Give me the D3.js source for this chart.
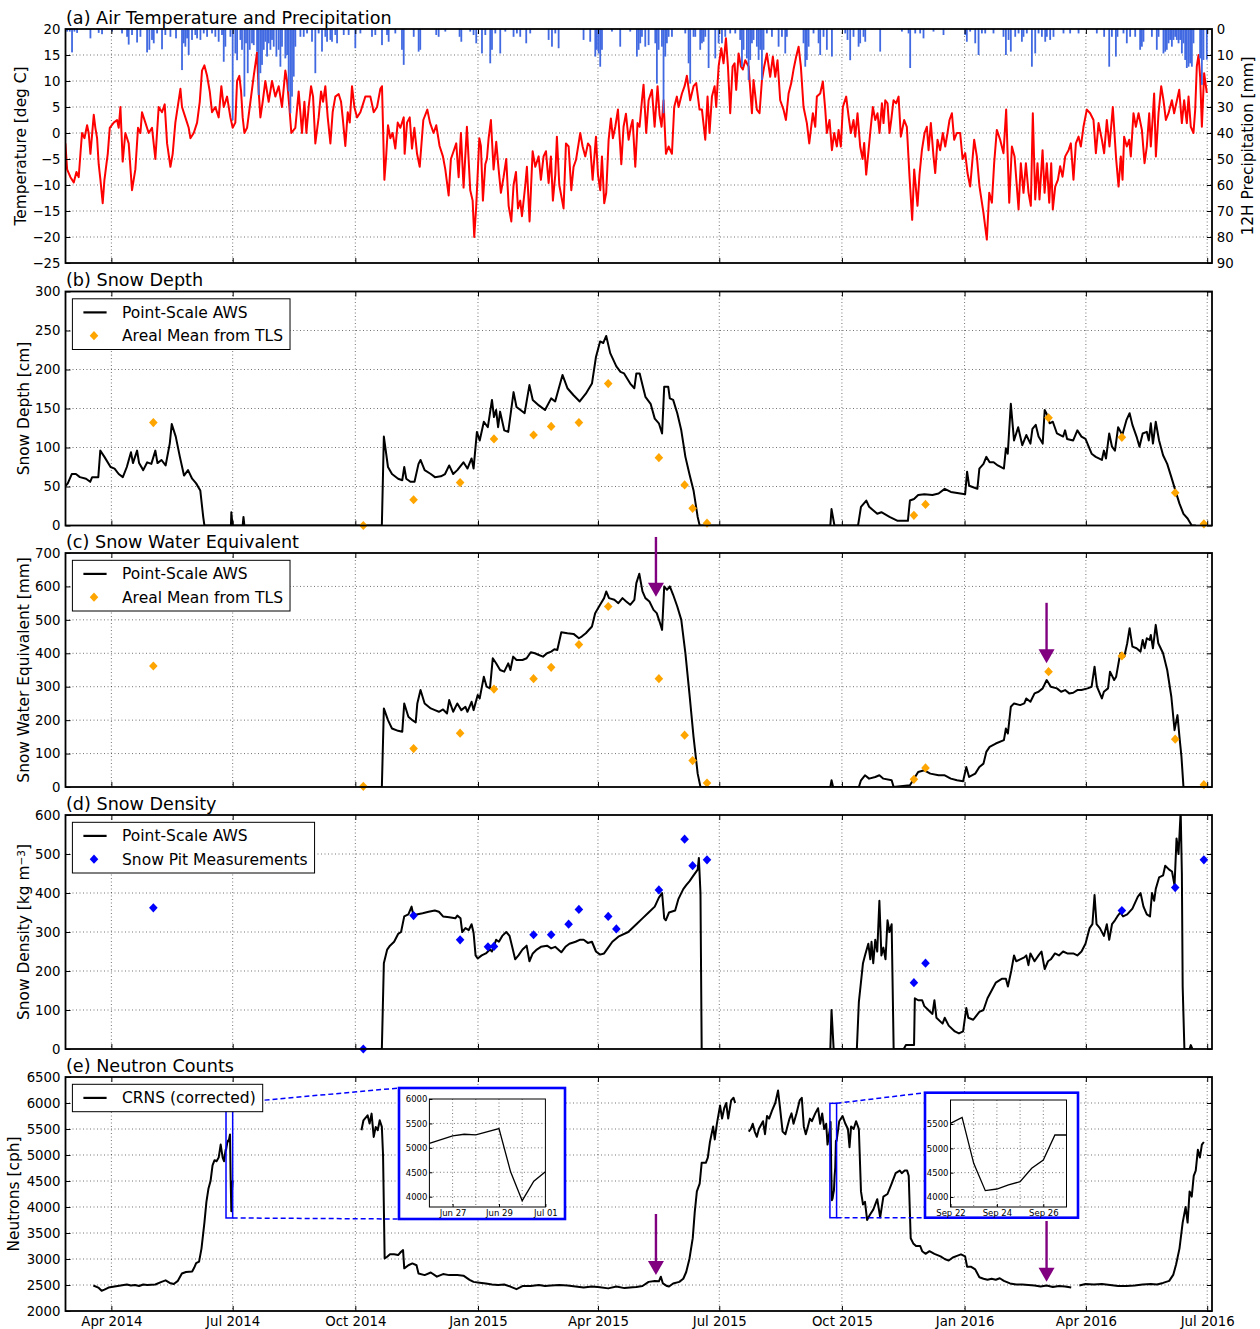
<!DOCTYPE html>
<html>
<head>
<meta charset="utf-8">
<script src="https://cdn.jsdelivr.net/npm/d3@7"></script>
<style>
  body { margin: 0; background: #fff; }
  svg { display: block; font-family: "DejaVu Sans", sans-serif; }
  .grid { stroke: #000; stroke-opacity: 0.55; stroke-width: 1; stroke-dasharray: 1,2.5; }
</style>
</head>
<body>
<svg id="chart" width="1260" height="1329"></svg>
<script>
// all x values are days since 2014-01-01 (UTC)
const xTickDates = ['2014-04-01', '2014-07-01', '2014-10-01', '2015-01-01', '2015-04-01',
  '2015-07-01', '2015-10-01', '2016-01-01', '2016-04-01', '2016-07-01'];

// (a) air temperature [deg C]
const tempSeries = [
  [55.5,-2],[56.8,-7],[59.3,-8.5],[61.8,-9.5],[63.8,-7.5],[65.5,-8.5],[66.8,-4],[68,0],[69.8,-1],[71.8,1.5],[73,0],[74.3,-4],[76.8,3.5],[78,1],[79.3,-1],[80.5,-6],[81.8,-9],[83.5,-13.5],[84.8,-9],[86.3,-6],[87.3,-4],[88.8,1],[91.8,2],[94.3,2.5],[95.5,1],[96.8,5],[98.5,-5.5],[100.5,0],[103,-2],[105.5,-11],[108,-7],[110,1],[111.8,0],[113,4],[115.5,2],[118,0],[120.5,1],[123,-5],[125.5,5],[128,4],[130,5.5],[131.8,-2],[134.3,-6.5],[136,-4],[138,2],[141.8,8.5],[143,5],[145.5,3],[148,1],[149.3,-1],[151.8,0],[154.3,2],[156.3,6],[158,12],[159.8,13],[161.8,11],[163.8,8],[165.5,4],[168,5],[170.5,3],[172.5,9],[174.3,5],[176.8,7],[179.3,3],[181,1],[183,2],[184.3,10],[186,11],[187.3,8],[188.5,3],[189.8,0],[191.8,1],[193.8,5],[196.8,11],[199.3,15.5],[200.5,8],[201.8,3],[203.5,6],[205.5,10],[208,6],[210.5,10],[213,7],[215.5,9],[218,5],[220.5,12],[221.8,10],[223.5,5],[225,0],[228,1],[230.5,8],[233,0],[234.8,6],[236.3,0],[238,5],[239.8,9],[241.3,7],[243,-2],[245.5,3],[247.3,8],[248.8,6],[250.5,9],[252.3,3],[254.3,-2],[256,4],[258,7],[260.5,7.5],[262.3,6],[263.5,3],[265.5,-2.5],[267.3,4],[268.8,2],[270.5,9],[272.3,5],[274.3,3],[276.8,4],[280.5,7],[284.3,7],[286.8,4],[289.3,5],[291.8,8.5],[293,9],[294.8,-9],[296,-5],[297.5,1.5],[299.3,-1],[301,0],[303,-3],[304.8,2],[306.8,1],[309.3,3],[310,-4],[311.8,2],[313.8,3],[315.5,-3],[317.3,1],[319.3,-4],[321.3,-6.5],
  [324,2.5],[327,4.5],[329,2],[331.7,0],[333.7,1.5],[336.2,-2.5],[338.7,-4.5],[340.5,-7],[343,-12],[344.7,-5],[346.7,-3.5],[348.7,-2],[350.5,-8.5],[352.2,0],[354.2,-10.5],[356.7,1.2],[359.2,-11],[361,-13],[362.2,-20],[363.7,-14],[366,-1],[367.2,-2.5],[368.7,-13],[370.5,-6],[371.7,-5],[373,-1],[374.7,2.5],[376.7,-7],[378.7,-1.7],[380.5,-7],[382.2,-11.5],[384.2,-8.5],[386.2,-5],[388,-14],[390,-17],[391.7,-10],[393.5,-7.5],[395,-14.5],[396.7,-13],[398,-16],[400.5,-10],[401.7,-6.5],[403.7,-17],[406,-3.5],[408,-6.5],[410.5,-4.5],[412.2,-9],[414.2,-4.5],[416,-3.5],[418,-9.6],[419.7,-4.5],[421.2,-13],[423,-8],[424.2,-0.7],[426,-10],[429.2,-14.5],[431,-2],[433,-2.6],[435,-11],[436.7,-6.5],[438.5,-5.2],[440.5,-2],[441.7,0],[443.5,-2.6],[445.5,-4.5],[447.5,-2],[449.2,-2.6],[451,-9],[453.5,-0.7],[455,-8],[456.7,-11],[458,-4.5],[459.7,-13.5],[461.2,-11.5],[463,-1.3],[464.7,2.8],[466.2,-1],[468,1.2],[470,4.5],[472.5,-6],[474.2,1.2],[476,3.7],[478,-1.3],[479.7,1.2],[481,2.5],[483,-6.5],[484.7,1.9],[486.2,1.2],[488,6.3],[489.2,9.3],[491.2,0],[493,6.3],[495.5,8.3],[497.5,1.2],[499.7,9],[501.2,3.5],[502.7,1.2],[504.2,6.3],[506,-4],[508,-2.6],[510.5,-4],[512.2,5],[514.2,7],[515.5,5],[518,7.6],[520,9],[521.7,11],[524.2,6.3],[526.7,9],[528.7,9.6],[531.2,4.5],[533,4.5],[535.5,-1.3],[537.2,7],[538.7,0],[540.5,7],[542.5,9],[543.7,5],[545.5,12.8],[547.5,16.3],[549.2,13.4],[551,18.2],[552.5,12.8],[554.2,3.8],[556,12.8],[557.5,13.4],[558.7,8.3],[560.5,15.3],[562.2,12.8],[563.7,12.2],[565.5,14],[568,12.8],[570.5,3.8],[571.7,10.2],[574.2,4.5],[576.2,3.8],[578,10.2],[579.7,12.8],[581.7,15.3],[584.2,10.8],[586.2,14.7],[588,10.8],[589.7,14],[591.7,6.3],[594.2,4.5],[596,2.5],[598,7.6],[600,9.6],[601.7,12.2],[603.7,14.7],[605.5,16.6],[607.2,12.8],[609.2,5],[611.7,1.9],[613.5,-2],[614.7,0.6],[616.2,3.8],[618,1.2],[619.2,7],[621.7,7.6],[623.7,9.9],[625.5,4.5],[626.7,0],[628.7,2.5],
  [630.5,-3.3],[632.2,0],[634.2,-2.6],[635.5,0.6],[637.2,-2.6],[638.7,5],[641.2,7],[643,3.2],[644.7,0],[646.7,2.5],[648,-0.7],[649.7,3.8],[651.7,-2.6],[653.5,-5],[654.7,-1.9],[656.2,-8],[658,-3.3],[659.2,0],[661.2,5],[663,2.5],[664.7,3.8],[666.2,0],[668,5.7],[669.2,1.9],[670.5,6.3],[672.2,5.7],[673.7,0],[675,2.5],[676.7,6.3],[678.7,5.7],[680.5,7],[682.2,-0.7],[684.7,2.5],[686.7,1.2],[688.7,-8.4],[690.7,-16.7],[692.2,-7],[694.7,-14],[696.2,-8],[698,-3.3],[700,0],[701.7,1.2],[703,-3.3],[704.7,1.9],[706.7,-4.5],[708,-7.7],[709.7,-1.3],[711.7,-3.3],[713.7,0],[715.5,-2.6],[717.2,0],[718.7,2.5],[720.5,3.8],[722.2,-1.3],[724.2,0],[726.7,0],[728.5,-5],[730.5,-3.9],[732.2,-7.7],[734.2,-10.3],[737.2,-1.3],[739.2,-4.5],[741.2,-10.3],[744.2,-15.4],[746.7,-20.5],[748.5,-11.5],[750.5,-13.4],[752.2,-5.8],[754.2,0.6],[756.7,-1.3],[759.2,-3.9],[761.2,4.5],[763.5,-13.4],[765.5,-2.6],[767.5,-4.5],[770.5,-14.7],[772.2,-5.8],[774.2,-11.5],[776,-5.8],[778,-11.5],[779.7,-14],[781.2,3.8],[783,-12.8],[784.7,-5.8],[786.2,-12.8],[788.5,-3.3],[790,-11.5],[791.7,-5.8],[793.5,-13.4],[795,-5.8],[796.2,-14.7],[798,-10.3],[800,-9],[801.7,-6.4],[803.5,-8.4],[805.5,-4.5],[808,-3.3],[809.7,-2],[811.7,-9],[813.5,-2],[815.5,-0.7],[817.2,-2.6],[819.2,1.2],[821.7,4.5],[824.2,3.8],[826.7,2.5],[828.5,-3.9],[830.5,1.9],[833,-1.3],[834.7,-3.9],[836.7,2.5],[838.7,-2.6],[841.2,5],[843.7,-5],[845.5,-10.3],[847.2,-4.5],[848.5,-9],[849.7,-0.7],[851.7,-2.6],[853.5,-1.3],[854.7,-4.5],[856.7,3.8],[858.5,1.2],[860.5,3.8],[863,0.6],[865,-5.8],[866.7,-2.6],[868.5,3.8],[869.7,-2.6],[871.2,3.2],[872.2,7.6],[873.5,-4.5],[875.5,3.8],[877.5,9],[879.2,6.3],[881,2.5],[883,3.8],[885.5,6.3],[887.2,3.8],[891,8.3],[893,1.9],[894.7,6.3],[896.7,1.9],[898,7],[899.7,1.2],[901.7,0],[903,4.5],[904.2,12.8],[905.5,15],[906.7,10.8],[908,1.2],[909.7,11.5],[911.7,7.7]
];

// (a) 12H precipitation [mm]
const precipSeries = [
  [56.8,1],[58.8,1],[60.5,9],[62.3,1],[64.3,1.5],[74.3,3.6],[80.5,1.5],[83,2],[90.5,1],[98,1.7],[101.8,3],[103,6],[105.5,2.3],[109.3,5.2],[111.8,3],[116.8,9],[118.5,8],[120.5,4.2],[121.8,5.5],[124.3,1.7],[128,7.8],[130.5,2.3],[134.3,3],[138.5,3.6],[143,15.8],[144.3,5.5],[145.5,6.8],[146.8,3.6],[148,10],[150.5,4.2],[153,2.3],[154.3,3.6],[156.8,4.2],[159.3,1.7],[161.8,3],[165.5,1.7],[168,3],[170.5,4.9],[173,2.3],[174.3,12.6],[175.5,6.8],[179.3,3],[181,35],[183,9.4],[184.3,12],[186.8,4.2],[188,8],[189.8,26],[191,5.5],[192.3,17],[193.8,8],[195.5,5.5],[196.8,6.2],[199.3,8.7],[200.5,25.4],[201.8,17],[203,13.8],[204.3,8],[205.5,4.9],[206.8,10.6],[208,5.5],[209.3,8],[210.5,4.2],[211.8,6.8],[213.8,10.6],[215.5,8],[216.8,14.5],[218,6.8],[220.5,11.3],[221.8,10],[223,24],[224.3,32.4],[225.5,26],[226.8,18.3],[228,6.8],[231.8,3],[234.3,3],[236.8,1.7],[240.5,4.9],[243,17],[245.5,1.7],[248,8.7],[250.5,3],[251.8,4.9],[254.3,4.2],[255.5,4.9],[258,2.3],[259.3,5.5],[264.3,2.3],[268,2.3],[273,7.4],[276.8,1.7],[285.5,3],[288,2.3],[293,6.2],[296.8,2.3],[298,4.9],[303,1.7],[308,8],[309.3,13.8],[316.8,3],[320.5,8.7],[321.7,8],
  [333.7,2.3],[335.5,3],[340.5,1],[351.2,3],[352.5,4.9],[359.2,1],[361.7,2.3],[363.7,5.5],[368,9.4],[370.5,2.3],[374.2,13.2],[375.5,8],[378,1.7],[381.7,9.4],[385.5,1],[391.7,3],[394.2,1.7],[396.7,3],[401.2,5.5],[404.2,1.7],[418,4.2],[420.5,6.8],[423,1.7],[425.5,7.4],[444.2,4.2],[449.2,4.9],[453,10.6],[454.2,8],[455.5,9.4],[456.7,14.5],[458,8],[465.5,1],[471.7,6.8],[479.2,1],[484.2,10.6],[485.5,8],[486.7,5.5],[488,3],[490.5,6.8],[493,6.2],[498,5.5],[499.2,21],[500.5,8],[503,6.8],[504.2,32.4],[505.5,10.6],[506.7,5.5],[508,3],[510.5,3],[520.5,1.7],[523,13.2],[524.2,21],[526.7,3],[528,3],[531.7,8],[533,5.5],[534.2,4.9],[535.5,3],[538,15],[543,11.3],[545.5,5.5],[548,5.5],[550.5,3],[554.2,1.7],[558,1.7],[561.7,4.2],[563,14.5],[564.2,8],[566.7,11.3],[568,19.6],[569.2,11.9],[570.5,5.5],[571.7,4.2],[574.2,6.8],[575.5,11.9],[576.7,8],[578,19.6],[579.2,8],[581.7,1.7],[585.5,3],[590.5,6.8],[593,3],[595.5,9.4],[596.7,3],[609.2,5.5],[610.5,14.5],[611.7,11.9],[613,6.8],[616.7,1.7],[620.5,5.5],[621.7,10],[624.2,3],[626.7,8],[630.5,10.6],
  [640.5,1.7],[642.2,4.2],[644.2,12],[646.7,3],[650.5,6.8],[651.7,5.5],[654.2,3],[655.5,4.9],[666.7,8.7],[683,1],[688,1.7],[689.2,15],[693,1.7],[696.7,1.7],[699.2,3.6],[706.7,1],[714.2,2.3],[730.5,2.3],[731.7,4.9],[734.2,1],[738,5.5],[740.5,10],[743,1.7],[745.5,1.7],[751.7,1.7],[759.2,3],[761,10],[763,4.2],[764.7,8.7],[768,3],[770.5,1.7],[773,4.9],[774.2,3],[776.7,1.7],[780.5,14.5],[783,9.4],[785.5,1.7],[788,3],[790.5,4.9],[791.7,3],[794.2,4.2],[796.7,3],[804.2,1.7],[809.2,1.7],[815.5,1.7],[829.2,1.7],[834.7,3],[838.5,14.5],[840.5,3],[843.5,10.6],[844.7,3],[849.2,1.7],[851.7,5.5],[854.2,3],[858,3],[861.7,8],[863,6.8],[864.2,4.9],[870.5,3],[874.2,8],[875.5,3],[879.2,9.4],[880.5,8.7],[881.7,8],[883,5.5],[884.2,4.2],[885.5,6.8],[886.7,4.2],[888,3],[889.2,4.2],[890.5,5.5],[891.7,4.2],[893,9.4],[894.2,5.5],[895.5,11.9],[896.7,15],[898,14.5],[899.2,13.2],[900.5,14.5],[901.7,5.5],[906.7,11.3],[908,21.5],[909.2,11.9],[911.7,11.8]
];

// (b) snow depth [cm], AWS
const depthSeries = [
  [55.7,51],[57.3,54],[60.3,66],[63.4,66],[66.4,62],[71,60],[74.1,56],[75.6,62],[80.2,62],[81.7,96],[84.8,88],[89.4,75],[92.4,73],[95.5,66],[98.6,62],[101.6,75],[104.7,94],[106.2,80],[109.3,96],[110.8,80],[113.9,71],[116.9,81],[120,79],[123,96],[124.6,80],[127.6,84],[130.7,77],[133.8,105],[135.3,130],[138.3,114],[141.4,88],[144.5,64],[147.5,71],[150.6,60],[153.6,54],[156.7,45],[158.9,11],[159.8,0],[179.7,0],[180,17],[180.9,0],[188.5,0],[189.1,11],[189.8,0],[292.9,0],[294.4,114],[297.5,75],[300.5,66],[305.1,60],[308.2,58],[309.7,75],[311.2,60],[314.3,56],[317.4,56],[320.4,79],[321.9,84],[325,71],[329.6,66],[332.7,62],[337.2,63],[340.3,66],[343.4,77],[346.4,66],[349.5,71],[354.1,81],[357.1,73],[360.2,86],[361.7,73],[364.2,120],[366.3,109],[369.4,133],[372.4,126],[375.5,161],[377,139],[378.6,148],[380.1,126],[381.6,146],[384.7,122],[387.7,120],[391.7,171],[393.9,152],[396.9,148],[400,144],[403.6,180],[406.1,161],[410.7,154],[415.3,148],[419.9,163],[422.9,159],[428.4,193],[432.1,176],[436.7,167],[441.3,159],[445.9,169],[450.5,182],[453.5,216],[456.6,236],[459,234],[461.2,243],[464.2,221],[468.8,204],[471.9,197],[474.6,195],[479.2,182],[482.3,176],[483.8,195],[486.3,195],[488.4,180],[490.6,165],[494.5,156],[497.6,137],[500.7,131],[503.1,118],[504.7,178],[507.7,178],[508.9,163],[511.4,161],[514.5,144],[517.5,122],[520.6,88],[523.6,66],[526.7,45],[529.8,11],[531.3,0],[629.3,0],[630.2,21],[632.4,0],[650.1,0],[652.3,24],[656.3,32],[658.4,24],[664.5,15],[667.6,17],[673.7,11],[679.8,6],[687.5,6],[689,32],[692.1,34],[695.2,39],[699.8,40],[705.9,39],[710.5,41],[715.1,47],[719.7,43],[730.4,40],[731.9,69],[733.4,51],[736.5,49],[739.6,47],[741.1,73],[744.2,79],[746.3,88],[748.8,81],[751.8,81],[754.9,77],[759.5,73],[761,99],[762.4,92],[764.7,156],[767.1,109],[770.2,126],[773.3,103],[776.3,116],[779.4,105],[780.9,124],[783.4,129],[785.5,114],[788.6,105],[790.1,148],[791.6,143],[793.8,131],[796.2,133],[799.3,118],[803.9,114],[805.4,122],[806.9,111],[811.5,109],[814.6,122],[817.7,114],[820.7,111],[825.3,92],[828.4,88],[833,84],[834.5,96],[836.1,86],[838.5,118],[840.6,101],[842.8,96],[845.2,126],[848.3,116],[851.4,135],[853.8,144],[855.9,129],[859,114],[861.2,101],[863.6,118],[866.7,120],[868.2,109],[869.7,131],[871.3,105],[873.4,133],[875.9,109],[878.9,90],[882,79],[885.1,62],[888.1,45],[891.2,28],[894.2,15],[897.3,9],[900.4,0],[903.4,0]
];

// (b, c) areal means from TLS
const tlsDays = [121.5, 279, 316.7, 351.6, 377, 406.7, 419.9, 440.7, 462.7, 500.7, 520, 526, 536.8, 692, 700.7, 793, 848, 888, 909.5];
const tlsDepth = [132, 0, 33, 55, 111, 116, 127, 132, 182, 87, 52, 22, 3, 13, 27, 138, 113, 42, 2];
const tlsSwe = [362, 2, 115, 161, 293, 324, 358, 426, 540, 324, 155, 79, 12, 23, 57, 345, 392, 143, 7];

// (c) snow water equivalent [mm], AWS
const sweSeries = [
  [279,0],[292.9,0],[294.4,235],[297.5,200],[300.5,175],[305.1,168],[308.2,165],[309.7,250],[312.8,210],[315.8,200],[318.3,193],[319.5,250],[321.9,290],[325,250],[329.6,235],[332.7,230],[335.7,225],[338.8,232],[341.8,220],[343.4,260],[346.4,225],[349.5,250],[352.5,230],[355.6,240],[357.1,225],[360.2,255],[361.7,230],[364.8,275],[366.3,265],[369.4,330],[371.5,300],[374,295],[376.1,385],[378.6,370],[381.6,350],[384.7,345],[387.7,370],[389.3,350],[391.4,390],[393.9,380],[398.4,380],[401.5,385],[404.6,403],[407.7,400],[410.7,395],[413.8,390],[416.8,400],[419.9,405],[422.3,412],[424.5,410],[427.5,463],[432.1,460],[436.7,458],[440.7,445],[442.8,450],[445.9,460],[450.5,480],[452.9,520],[456.6,545],[459.6,565],[461.2,585],[463.3,565],[467.3,560],[470.3,550],[473.4,565],[476.2,555],[479.2,545],[482.3,560],[483.8,610],[486,638],[488.4,585],[490.6,565],[493.6,555],[496.7,530],[499.1,520],[501.6,490],[503.1,470],[504.7,600],[506.8,590],[508.9,600],[511.4,575],[514.5,540],[517.5,500],[520.6,400],[523.6,280],[526.7,150],[529.8,40],[531.9,0],[629.3,0],[630.2,20],[631.4,0],[650.7,0],[652.3,20],[655.3,35],[658.4,25],[663,30],[666.1,35],[669.1,25],[675.3,20],[676.8,0],[689,5],[692.1,25],[695.2,45],[699.8,50],[704.3,40],[710.5,35],[715.1,35],[719.7,25],[724.3,20],[728.9,17],[731.3,60],[733.4,30],[738,40],[741.1,60],[744.2,70],[746.3,105],[748.8,120],[753.4,130],[759.5,140],[761,175],[762.5,160],[764.7,240],[767.1,250],[771.7,245],[774.8,250],[776.3,265],[779.4,255],[782.5,280],[785.5,285],[788.6,295],[791.6,320],[794.7,300],[799.3,295],[802.4,285],[805.4,290],[808.5,280],[811.5,282],[814.6,290],[817.7,290],[822.3,295],[825.3,300],[827.5,360],[829.3,300],[833,265],[834.5,285],[837.6,295],[839.1,345],[842.2,320],[843.7,330],[846.8,400],[849.8,390],[852,430],[853.8,475],[855.9,420],[859,415],[862,405],[863.6,440],[865.1,415],[866.7,445],[868.8,440],[869.7,455],[871.3,415],[873.4,485],[875.3,430],[878.9,400],[882,350],[885.1,270],[887.5,170],[889.7,215],[891.2,150],[892.7,90],[894.2,0],[909.5,0]
];

// (d) snow density [kg m-3], AWS
const densitySeries = [
  [279,0],[292.9,0],[294.4,220],[296.9,255],[299,265],[302.1,275],[305.1,295],[307.3,300],[309.7,340],[312.8,345],[315.2,365],[316.4,345],[318.9,345],[323.5,348],[328,352],[332.6,355],[335.7,352],[338.8,340],[343.4,338],[348,335],[349.5,342],[351.9,335],[353.2,300],[355.6,310],[358.1,305],[360.2,320],[361.7,298],[363.2,240],[364.8,232],[367.8,240],[370.9,245],[374,255],[375.5,250],[378.6,280],[380.7,275],[383.2,290],[386.2,300],[388.7,290],[390.8,260],[392.9,230],[395.4,240],[398.4,255],[401.5,265],[403.6,225],[406.1,245],[409.1,255],[412.2,262],[416.8,265],[419.9,258],[422.9,262],[427.5,248],[430.6,262],[433.6,270],[438.2,275],[441.3,280],[444.3,280],[447.4,272],[450.5,275],[453.5,250],[456.6,242],[459.6,245],[462.7,260],[465.8,275],[470.3,288],[477.7,300],[483.8,320],[488.4,335],[493,350],[497.6,365],[500.7,388],[503.1,400],[504.7,335],[505.9,330],[508.3,350],[512.9,355],[515.4,385],[519,410],[521.2,420],[523.6,430],[526.7,445],[529.8,460],[530.7,490],[531.9,400],[532.8,0],[629.3,0],[630.2,100],[631.8,0],[649.2,0],[650.7,120],[653.8,220],[655.3,240],[657.8,270],[659.3,230],[660.2,275],[661.5,220],[663,280],[664.5,250],[666.1,380],[667.6,240],[669.1,260],[670.7,230],[672.2,330],[673.7,300],[675.3,320],[676.8,0],[684.4,0],[686,10],[692.1,10],[692.7,130],[695.2,125],[698.2,125],[699.8,110],[702.8,100],[705.9,90],[707.4,125],[708.9,80],[713.5,65],[715.1,80],[718.1,60],[722.7,45],[725.8,40],[728.9,45],[731.3,105],[732.8,80],[736.5,75],[741.1,95],[744.2,100],[747.2,130],[750.3,150],[753.4,170],[757.9,180],[761,180],[762.5,160],[765,200],[767.1,240],[768.7,225],[771.7,230],[774.8,235],[776.3,240],[777.9,215],[779.4,245],[782.5,225],[785.5,240],[787.7,250],[790.1,205],[792.6,225],[794.7,230],[797.8,245],[800.8,240],[803.9,250],[807,245],[811.5,245],[814.6,240],[817.7,250],[820.7,270],[823.8,310],[825.9,320],[827.5,395],[829,320],[831.5,310],[834.5,290],[836.7,320],[838.5,280],[840.6,320],[842.8,330],[844.6,340],[846.8,350],[848.9,340],[852,345],[855.9,360],[859.9,390],[862,400],[864.2,365],[866.7,345],[869.1,340],[870.6,400],[872.2,380],[873.4,410],[875.9,440],[878.9,445],[880.5,470],[883.5,460],[885.6,455],[887.5,420],[889,540],[890.5,500],[892.1,610],[893,450],[893.6,160],[894.9,0],[898.8,0],[899.7,10],[900.9,0]
];

// (d) snow pits
const pitDays = [121.5, 279, 316.7, 351.6, 372.5, 377, 406.7, 419.9, 433, 440.7, 462.7, 468.8, 500.7, 520, 526, 536.8, 692, 700.7, 848, 888, 909.5];
const pitDensity = [362, 0, 342, 280, 262, 263, 293, 293, 320, 358, 340, 308, 408, 538, 470, 485, 170, 220, 355, 414, 485];

// (e) corrected neutron counts [cph]; null = no data
const insetJun = [[176,5093],[177,5244],[177.5,5278],[178,5265],[179,5395],[179.5,4509],[180,3918],[180.5,4316],[181,4509]];
const insetSep = [[629,5514],[629.5,5637],[630,4692],[630.5,4130],[631,4164],[631.5,4247],[632,4315],[632.5,4589],[633,4760],[633.5,5274],[634,5274]];
const neutronSeries = [
  [76.5,2490],[80.2,2450],[82.7,2390],[84.8,2410],[87.9,2450],[92.4,2470],[97,2490],[101.6,2510],[104.7,2490],[107.7,2500],[110.8,2480],[113.9,2510],[116.9,2500],[123,2510],[127.6,2560],[130.7,2590],[133.8,2540],[136.8,2520],[139.9,2580],[142.9,2720],[146,2750],[150.6,2760],[152.1,2830],[153.6,2920],[155.8,2950],[157.6,3200],[159.8,3700],[161.3,4100],[162.8,4350],[164.4,4500],[165.9,4800],[167.4,4900],[168.9,4880],[170.5,4950],[172,5200],[173.5,4950],[174.5,4880],[175.7,5100],
  ...insetJun, null,
  [277.6,5476],[279.1,5668],[282.2,5764],[283.7,5604],[285.2,5796],[286.8,5348],[288.3,5540],[289.8,5476],[291.3,5668],[292.9,5540],[293.8,4996],[295,3011],[296.9,3043],[299,3090],[302.1,3090],[305.1,3075],[307.3,3140],[308.8,3170],[309.7,2820],[312.8,2880],[315.8,2915],[318.9,2880],[320.4,2720],[325,2690],[329.6,2740],[334.2,2660],[338.8,2710],[343.4,2690],[349.5,2690],[354.1,2680],[358.7,2600],[361.7,2560],[366.3,2545],[370.9,2530],[375.5,2510],[380.1,2500],[384.7,2510],[389.3,2470],[393.9,2420],[398.4,2480],[404.6,2480],[410.7,2500],[415.3,2480],[419.9,2490],[426,2500],[432.1,2490],[438.2,2470],[444.3,2450],[450.5,2470],[456.6,2455],[462.7,2435],[468.8,2470],[474.9,2440],[481.1,2455],[483.8,2460],[488.4,2480],[493,2560],[497.6,2575],[500.7,2570],[502.2,2660],[503.7,2530],[506.8,2480],[508.3,2470],[511.4,2530],[516,2560],[519,2620],[521.2,2750],[523.6,3000],[526.1,3400],[527.6,3900],[529.2,4300],[531.3,4450],[532.8,4850],[535.9,4850],[537.4,4950],[539,5250],[541.4,5550],[542.6,5300],[544.2,5600],[546.6,5950],[548.1,5700],[549.7,5900],[551.2,6000],[552.7,5700],[554.9,6050],[556.7,6100],[557.9,6000],
  null,
  [568.1,5450],[569.6,5500],[571.1,5600],[572.6,5450],[574.2,5350],[575.7,5500],[578.8,5650],[580.3,5400],[581.8,5750],[583.4,5700],[585.5,5850],[588,6000],[590.1,6240],[591.6,5900],[593.5,5450],[595.6,5400],[597.1,5550],[598.7,5700],[600.2,5800],[601.7,5600],[603.9,5800],[606.3,6050],[607.9,6100],[609.4,5550],[610.9,5400],[612.5,5550],[614,5700],[615.5,5650],[618,5800],[620.1,5900],[621.7,5600],[623.2,5800],[624.7,5500],[626.2,5600],[627.2,5200],
  ...insetSep,
  [636,5650],[638.5,5750],[640.6,5600],[642.5,5500],[643.7,5150],[644.9,5550],[646.8,5500],[648.6,5650],[650.7,5500],[652.3,4300],[653.8,4050],[655.3,4100],[656.9,3750],[659,3850],[661.5,3950],[664.5,4150],[666.7,3800],[669.1,4200],[672.2,4250],[675.3,4450],[678.3,4650],[681.4,4700],[682.9,4650],[685.1,4700],[686.9,4700],[688.1,4600],[689.6,3400],[691.5,3300],[693.6,3250],[696.7,3250],[698.2,3150],[700.7,3100],[703.7,3150],[707.4,3100],[712,3050],[715.1,3000],[718.1,2970],[721.2,3030],[724.3,3060],[727.3,3090],[730.4,3050],[731.9,2850],[735,2850],[738,2800],[741.1,2650],[744.2,2620],[747.2,2600],[750.3,2620],[753.4,2600],[756.4,2630],[759.5,2580],[764.1,2530],[768.7,2510],[773.3,2510],[777.9,2500],[782.5,2490],[787,2470],[791.6,2490],[796.2,2460],[800.8,2480],[805.4,2470],[810,2450],
  null,
  [816.1,2490],[820.7,2520],[826.9,2510],[833,2520],[839.1,2500],[845.2,2480],[851.4,2480],[857.5,2490],[863.6,2510],[869.7,2520],[874.3,2510],[878.9,2540],[883.5,2580],[886.6,2700],[888.7,2900],[891.2,3200],[893.6,3700],[895.8,4000],[897.3,3700],[898.8,4300],[900.4,4200],[901.9,4600],[903.4,4700],[905,5100],[906.5,4950],[908,5200],[909.5,5250]
];

// purple arrows (c, e): day, start value, tip value
const arrowDays = [498.5, 791.5];
const sweArrowFrom = [748, 551], sweArrowTo = [569, 370];
const neutronArrowFrom = [3865, 3731], neutronArrowTo = [2692, 2563];

// ---------------------------------------------------------------
const svg = d3.select('#chart');
const FONT = '"DejaVu Sans", sans-serif';
const X0 = 65.5, X1 = 1212, PH = 234;
const panelTops = [29, 291.5, 553, 815, 1077];
const BASE = Date.UTC(2014, 0, 1);
const toDate = (d) => new Date(BASE + d * 864e5);

const x = d3.scaleUtc().domain([toDate(55.6), toDate(915.6)]).range([X0, X1]);
const xTicks = xTickDates.map((s) => new Date(s + 'T00:00:00Z'));
const diamond = 'M0,-4.6L4.3,0L0,4.6L-4.3,0Z';
const fmtInt = d3.format('d');

function styleAxis(sel, size) {
  sel.attr('font-family', FONT).attr('font-size', size);
  sel.select('.domain').remove();
  sel.selectAll('.tick line').attr('stroke', '#000');
  sel.selectAll('.tick text').attr('fill', '#000');
}

function makePanel(i, domain, step, title) {
  const top = panelTops[i];
  const y = d3.scaleLinear().domain(domain).range([top + PH, top]);
  const ticks = d3.range(domain[0], domain[1] + step / 2, step);
  const g = svg.append('g');

  svg.append('clipPath').attr('id', `clip${i}`)
    .append('rect').attr('x', X0).attr('y', top).attr('width', X1 - X0).attr('height', PH);

  g.append('g').selectAll('line').data(ticks.slice(1, -1)).join('line')
    .attr('class', 'grid')
    .attr('x1', X0).attr('x2', X1)
    .attr('y1', (d) => y(d)).attr('y2', (d) => y(d));
  g.append('g').selectAll('line').data(xTicks).join('line')
    .attr('class', 'grid')
    .attr('x1', (d) => x(d)).attr('x2', (d) => x(d))
    .attr('y1', top).attr('y2', top + PH);

  g.append('text')
    .attr('x', X0 + 0.5).attr('y', top - 5.5)
    .attr('font-size', 17.6).attr('fill', '#000')
    .text(title);

  const plot = g.append('g').attr('clip-path', `url(#clip${i})`);
  return { i, g, plot, y, top, ticks };
}

function finishPanel(p, opts = {}) {
  const { g, y, top, ticks } = p;
  g.append('g').attr('transform', `translate(${X0},0)`)
    .call(d3.axisLeft(y).tickValues(ticks).tickSizeInner(-5).tickSizeOuter(0).tickPadding(5).tickFormat(fmtInt))
    .call(styleAxis, 13.3);
  if (!opts.noRight) {
    g.append('g').attr('transform', `translate(${X1},0)`)
      .call(d3.axisRight(y).tickValues(ticks).tickSizeInner(-5).tickSizeOuter(0).tickFormat(''))
      .call(styleAxis, 13.3);
  }
  g.append('g').attr('transform', `translate(0,${top})`)
    .call(d3.axisTop(x).tickValues(xTicks).tickSizeInner(-5).tickSizeOuter(0).tickFormat(''))
    .call(styleAxis, 13.3);
  g.append('g').attr('transform', `translate(0,${top + PH})`)
    .call(d3.axisBottom(x).tickValues(xTicks).tickSizeInner(-5).tickSizeOuter(0).tickPadding(5.5)
      .tickFormat(opts.xLabels ? d3.utcFormat('%b %Y') : ''))
    .call(styleAxis, 13.3);

  g.append('rect')
    .attr('x', X0).attr('y', top).attr('width', X1 - X0).attr('height', PH)
    .attr('fill', 'none').attr('stroke', '#000').attr('stroke-width', 1.8);

  // rotated label: glyphs sit to the left of the baseline x
  const lab = g.append('text')
    .attr('transform', `translate(${opts.labelX},${top + PH / 2}) rotate(-90)`)
    .attr('text-anchor', 'middle').attr('font-size', 15.4).attr('fill', '#000');
  if (typeof opts.label === 'string') lab.text(opts.label);
  else opts.label(lab);
}

function drawLine(p, data, yScale, color) {
  p.plot.append('path')
    .datum(data)
    .attr('fill', 'none')
    .attr('stroke', color)
    .attr('stroke-width', 2)
    .attr('stroke-linejoin', 'round')
    .attr('d', d3.line().defined((d) => d)
      .x((d) => x(toDate(d[0]))).y((d) => yScale(d[1])));
}

function drawDiamonds(p, days, vals, color) {
  p.g.append('g').selectAll('path').data(days).join('path')
    .attr('d', diamond)
    .attr('transform', (d, k) => `translate(${x(toDate(d))},${p.y(vals[k])})`)
    .attr('fill', color);
}

function legend(p, items) {
  const lx = 72.4, ly = p.top + 7.3;
  const lg = p.g.append('g').attr('font-size', 15.5);
  const box = lg.append('rect').attr('x', lx).attr('y', ly)
    .attr('fill', '#fff').attr('stroke', '#000').attr('stroke-width', 1);
  items.forEach((it, k) => {
    const cy = ly + 13.6 + k * 23.3;
    if (it.kind === 'line') {
      lg.append('line').attr('x1', lx + 11).attr('x2', lx + 34.2)
        .attr('y1', cy).attr('y2', cy)
        .attr('stroke', '#000').attr('stroke-width', 2.2);
    } else {
      lg.append('path').attr('d', diamond)
        .attr('transform', `translate(${lx + 21.6},${cy})`).attr('fill', it.color);
    }
    lg.append('text').attr('x', lx + 49.6).attr('y', cy).attr('dy', '0.36em')
      .attr('fill', '#000').text(it.label);
  });
  const tw = d3.max(lg.selectAll('text').nodes(), (n) => n.getComputedTextLength());
  box.attr('width', 49.6 + tw + 7).attr('height', 27.4 + (items.length - 1) * 23.3);
}

function arrow(p, day, from, to) {
  const ax = x(toDate(day));
  const y0 = p.y(from), y1 = p.y(to);
  const ag = p.g.append('g').attr('fill', '#800080').attr('stroke', '#800080');
  ag.append('line').attr('x1', ax).attr('x2', ax).attr('y1', y0).attr('y2', y1 - 12)
    .attr('stroke-width', 2.4);
  ag.append('path').attr('stroke', 'none')
    .attr('d', `M${ax - 8},${y1 - 14}L${ax + 8},${y1 - 14}L${ax},${y1}Z`);
}

// ---------------------------------------------------------------- (a)
const pa = makePanel(0, [-25, 20], 5, '(a) Air Temperature and Precipitation');
const yPrecip = d3.scaleLinear().domain([0, 90]).range([pa.top, pa.top + PH]);
drawLine(pa, tempSeries, pa.y, '#ff0000');
pa.plot.append('g').selectAll('rect').data(precipSeries).join('rect')
  .attr('x', (d) => x(toDate(d[0])) - 0.9)
  .attr('width', 1.8)
  .attr('y', yPrecip(0))
  .attr('height', (d) => yPrecip(d[1]) - yPrecip(0))
  .attr('fill', '#4169e1');
finishPanel(pa, { noRight: true, label: 'Temperature [deg C]', labelX: 25.5 });
pa.g.append('g').attr('transform', `translate(${X1},0)`)
  .call(d3.axisRight(yPrecip).tickValues(d3.range(0, 91, 10)).tickSizeInner(-5).tickSizeOuter(0).tickPadding(4.7))
  .call(styleAxis, 13.3);
pa.g.append('text')
  .attr('transform', `translate(1252.5,${pa.top + PH / 2}) rotate(-90)`)
  .attr('text-anchor', 'middle').attr('font-size', 15.4).attr('fill', '#000')
  .text('12H Precipitation [mm]');

// ---------------------------------------------------------------- (b)
const pb = makePanel(1, [0, 300], 50, '(b) Snow Depth');
drawLine(pb, depthSeries, pb.y, '#000');
drawDiamonds(pb, tlsDays, tlsDepth, '#ffa500');
finishPanel(pb, { label: 'Snow Depth [cm]', labelX: 29 });
legend(pb, [{ kind: 'line', label: 'Point-Scale AWS' }, { kind: 'dot', color: '#ffa500', label: 'Areal Mean from TLS' }]);

// ---------------------------------------------------------------- (c)
const pc = makePanel(2, [0, 700], 100, '(c) Snow Water Equivalent');
drawLine(pc, sweSeries, pc.y, '#000');
drawDiamonds(pc, tlsDays, tlsSwe, '#ffa500');
finishPanel(pc, { label: 'Snow Water Equivalent [mm]', labelX: 29 });
legend(pc, [{ kind: 'line', label: 'Point-Scale AWS' }, { kind: 'dot', color: '#ffa500', label: 'Areal Mean from TLS' }]);
arrowDays.forEach((d, k) => arrow(pc, d, sweArrowFrom[k], sweArrowTo[k]));

// ---------------------------------------------------------------- (d)
const pd = makePanel(3, [0, 600], 100, '(d) Snow Density');
drawLine(pd, densitySeries, pd.y, '#000');
drawDiamonds(pd, pitDays, pitDensity, '#0000ff');
finishPanel(pd, {
  labelX: 29,
  label: (t) => {
    t.append('tspan').text('Snow Density [kg m');
    t.append('tspan').attr('font-size', 10.5).attr('baseline-shift', '38%').text('\u22123');
    t.append('tspan').text(']');
  },
});
legend(pd, [{ kind: 'line', label: 'Point-Scale AWS' }, { kind: 'dot', color: '#0000ff', label: 'Snow Pit Measurements' }]);

// ---------------------------------------------------------------- (e)
const pe = makePanel(4, [2000, 6500], 500, '(e) Neutron Counts');
drawLine(pe, neutronSeries, pe.y, '#000');

function inset(frame, inner, dayDomain, yDomain, gridDays, labelDays, yTickVals, data) {
  const ig = pe.g.append('g');
  const sx0 = x(toDate(dayDomain[0])), sx1 = x(toDate(dayDomain[1]));
  const sy0 = pe.y(yDomain[1]), sy1 = pe.y(yDomain[0]);
  ig.append('rect').attr('x', sx0).attr('y', sy0).attr('width', sx1 - sx0).attr('height', sy1 - sy0)
    .attr('fill', 'none').attr('stroke', '#0000ff').attr('stroke-width', 1.5);
  ig.append('line').attr('x1', sx1).attr('y1', sy0).attr('x2', frame[0]).attr('y2', frame[1])
    .attr('stroke', '#0000ff').attr('stroke-width', 1.5).attr('stroke-dasharray', '5,3');
  ig.append('line').attr('x1', sx1).attr('y1', sy1).attr('x2', frame[0]).attr('y2', frame[3])
    .attr('stroke', '#0000ff').attr('stroke-width', 1.5).attr('stroke-dasharray', '5,3');
  ig.append('rect').attr('x', frame[0]).attr('y', frame[1])
    .attr('width', frame[2] - frame[0]).attr('height', frame[3] - frame[1])
    .attr('fill', '#fff').attr('stroke', '#0000ff').attr('stroke-width', 2.6);

  const xs = d3.scaleUtc().domain(dayDomain.map(toDate)).range([inner[0], inner[2]]);
  const ys = d3.scaleLinear().domain(yDomain).range([inner[3], inner[1]]);
  ig.append('g').selectAll('line').data(gridDays).join('line')
    .attr('class', 'grid').attr('stroke-width', 0.8)
    .attr('x1', (d) => xs(toDate(d))).attr('x2', (d) => xs(toDate(d)))
    .attr('y1', inner[1]).attr('y2', inner[3]);
  ig.append('g').selectAll('line').data(yTickVals.filter((v) => v > yDomain[0] && v < yDomain[1])).join('line')
    .attr('class', 'grid').attr('stroke-width', 0.8)
    .attr('x1', inner[0]).attr('x2', inner[2])
    .attr('y1', (d) => ys(d)).attr('y2', (d) => ys(d));
  ig.append('path').datum(data)
    .attr('fill', 'none').attr('stroke', '#000').attr('stroke-width', 1.3)
    .attr('d', d3.line().x((d) => xs(toDate(d[0]))).y((d) => ys(d[1])));
  ig.append('g').attr('transform', `translate(${inner[0]},0)`)
    .call(d3.axisLeft(ys).tickValues(yTickVals).tickSizeInner(-3).tickSizeOuter(0).tickPadding(2).tickFormat(fmtInt))
    .call(styleAxis, 8.5);
  ig.append('g').attr('transform', `translate(0,${inner[3]})`)
    .call(d3.axisBottom(xs).tickValues(labelDays.map(toDate)).tickSizeInner(-3).tickSizeOuter(0).tickPadding(2.5)
      .tickFormat(d3.utcFormat('%b %d')))
    .call(styleAxis, 8.5);
  ig.append('rect').attr('x', inner[0]).attr('y', inner[1])
    .attr('width', inner[2] - inner[0]).attr('height', inner[3] - inner[1])
    .attr('fill', 'none').attr('stroke', '#000').attr('stroke-width', 1);
}

inset([399, 1088, 565, 1219], [429.4, 1099, 545.4, 1207], [176, 181], [3789, 6000],
  [177, 178, 179, 180], [177, 179, 181], [4000, 4500, 5000, 5500, 6000], insetJun);
inset([925, 1092.7, 1078, 1217.7], [950.5, 1100, 1066.5, 1207], [629, 634], [3794, 5994],
  [630, 631, 632, 633], [629, 631, 633], [4000, 4500, 5000, 5500], insetSep);

finishPanel(pe, { xLabels: true, label: 'Neutrons [cph]', labelX: 19 });
legend(pe, [{ kind: 'line', label: 'CRNS (corrected)' }]);
arrowDays.forEach((d, k) => arrow(pe, d, neutronArrowFrom[k], neutronArrowTo[k]));
</script>
</body>
</html>
